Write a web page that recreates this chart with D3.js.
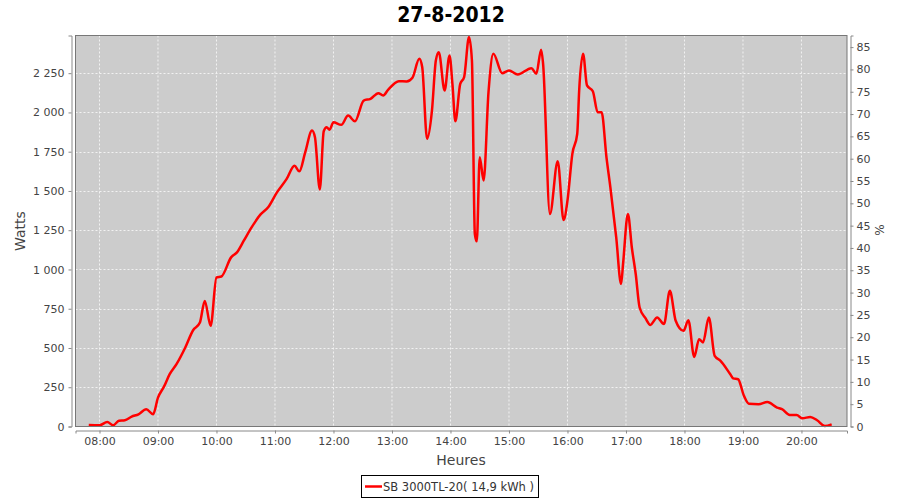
<!DOCTYPE html>
<html><head><meta charset="utf-8">
<script src="https://cdn.jsdelivr.net/npm/d3@7"></script>
<style>
body{margin:0;background:#fff;}
text{font-family:"DejaVu Sans",sans-serif;}
</style></head>
<body><svg id="c" width="900" height="500"></svg>
<script>
const title = "27-8-2012";
const seriesName = "SB 3000TL-20( 14,9 kWh )";
const xTickLabels = ["08:00","09:00","10:00","11:00","12:00","13:00","14:00","15:00","16:00","17:00","18:00","19:00","20:00"];
const wattTicks = [0,250,500,750,1000,1250,1500,1750,2000,2250];
const pctTicks = [0,5,10,15,20,25,30,35,40,45,50,55,60,65,70,75,80,85];
const times = ["07:49","08:00","08:08","08:14","08:20","08:26","08:33","08:40","08:48","08:55",
"09:00","09:06","09:12","09:19","09:28","09:36","09:43","09:48","09:54",
"10:00","10:05","10:15","10:21","10:28","10:36","10:45","10:53",
"11:02","11:12","11:20","11:25","11:31","11:38","11:41","11:46","11:50","11:53","11:56",
"12:00","12:08","12:15","12:22","12:31","12:38","12:46","12:51","12:56",
"13:07","13:15","13:21","13:28","13:31","13:36","13:41","13:45","13:48","13:54","13:59",
"14:02","14:05","14:10","14:14","14:19","14:22","14:25","14:27","14:30","14:34","14:39","14:44","14:53",
"15:00","15:09","15:23","15:28","15:33","15:35","15:42","15:50","15:56",
"16:00","16:05","16:10","16:12","16:16","16:20","16:26","16:31","16:35","16:40","16:44","16:50","16:55","16:57",
"17:02","17:06","17:10","17:14","17:20","17:25","17:32","17:39","17:45","17:51","17:59",
"18:04","18:10","18:15","18:19","18:25","18:31","18:37","18:47","18:50","18:55",
"19:01","19:06","19:16","19:25","19:35","19:40","19:48","19:55",
"20:01","20:09","20:16","20:24","20:31"];
const watts = [10,8,29,8,37,40,63,78,110,78,
184,252,333,397,503,613,662,800,641,
949,955,1077,1109,1183,1268,1349,1396,
1491,1577,1661,1625,1746,1885,1842,1510,1880,1906,1890,
1938,1921,1980,1944,2076,2087,2123,2108,2144,
2199,2197,2221,2342,2289,1832,2012,2331,2384,2140,2363,
2182,1944,2182,2225,2480,2331,1226,1179,1714,1566,2129,2374,2250,
2267,2242,2282,2246,2400,2310,1353,1689,1315,
1438,1736,1864,2140,2374,2172,2135,2001,2001,1714,1523,1204,907,1034,
1353,1140,971,758,690,647,694,652,864,673,609,
677,443,556,535,694,450,418,333,307,301,
195,145,142,156,120,110,73,73,
52,61,40,3,14];

const toMin = s => { const [h,m] = s.split(":").map(Number); return h*60+m; };
const data = times.map((t,i)=>({t:toMin(t), v:watts[i]}));

const svg = d3.select("#c");
const L = 75.5, R = 847, T = 35.5, B = 426.5;
const x = d3.scaleLinear().domain([455.4, 1246.7]).range([L, R]);
const y = d3.scaleLinear().domain([0, 2490]).range([B, T]);
const y2 = d3.scaleLinear().domain([0, 87.6]).range([B, T]);
const loc = d3.formatLocale({decimal:",", thousands:" ", grouping:[3], currency:["","€"]});
const fmt = loc.format(",");

// title
svg.append("text").attr("x",451).attr("y",22).attr("text-anchor","middle")
  .style("font-family","'DejaVu Sans Condensed','DejaVu Sans',sans-serif").style("font-stretch","condensed")
  .style("font-weight","bold").style("font-size","21px")
  .attr("fill","#000").text(title);

// plot background
svg.append("rect").attr("x",L).attr("y",T).attr("width",R-L).attr("height",B-T).attr("fill","#cccccc");

// grid
const g = svg.append("g");
g.selectAll("line.v").data(xTickLabels).enter().append("line")
  .attr("x1",d=>x(toMin(d))).attr("x2",d=>x(toMin(d))).attr("y1",T).attr("y2",B)
  .attr("stroke","#f2f2f2").attr("stroke-width",1).attr("stroke-dasharray","2,2");
g.selectAll("line.h").data(wattTicks.filter(d=>d>0)).enter().append("line")
  .attr("x1",L).attr("x2",R).attr("y1",d=>Math.round(y(d))+0.5).attr("y2",d=>Math.round(y(d))+0.5)
  .attr("stroke","#f2f2f2").attr("stroke-width",1).attr("stroke-dasharray","2,2");

// series line
svg.append("path").datum(data)
  .attr("d", d3.line().x(d=>x(d.t)).y(d=>y(d.v)).curve(d3.curveMonotoneX))
  .attr("fill","none").attr("stroke","#ff0000").attr("stroke-width",2.5).attr("stroke-linejoin","round");

// plot outline
svg.append("rect").attr("x",L).attr("y",T).attr("width",R-L).attr("height",B-T)
  .attr("fill","none").attr("stroke","#777").attr("stroke-width",1);

// axes
const tickColor = "#444";
const styleAxis = sel => {
  sel.select(".domain").attr("stroke","#888");
  sel.selectAll(".tick line").attr("stroke","#888");
  sel.selectAll(".tick text").attr("fill",tickColor).style("font-family","'DejaVu Sans',sans-serif").style("font-size","11px");
};
const xAxis = svg.append("g").attr("transform","translate(0,430.5)")
  .call(d3.axisBottom(x).tickValues(xTickLabels.map(toMin)).tickFormat((d,i)=>xTickLabels[i]).tickSizeOuter(0).tickSize(3).tickPadding(4));
styleAxis(xAxis);
const yAxis = svg.append("g").attr("transform","translate(71.5,0)")
  .call(d3.axisLeft(y).tickValues(wattTicks).tickFormat(fmt).tickSizeOuter(0).tickSize(3).tickPadding(4));
styleAxis(yAxis);
const yAxis2 = svg.append("g").attr("transform","translate(850.5,0)")
  .call(d3.axisRight(y2).tickValues(pctTicks).tickSizeOuter(0).tickSize(3).tickPadding(3));
styleAxis(yAxis2);

// axis labels
svg.append("text").attr("x",461).attr("y",465).attr("text-anchor","middle")
  .attr("fill","#444").style("font-size","14px").text("Heures");
svg.append("text").attr("transform","translate(25,231) rotate(-90)").attr("text-anchor","middle")
  .attr("fill","#444").style("font-size","14px").text("Watts");
svg.append("text").attr("transform","translate(884,230) rotate(-90)").attr("text-anchor","middle")
  .attr("fill","#444").style("font-size","12px").text("%");

// legend
const lg = svg.append("g");
lg.append("rect").attr("x",361.5).attr("y",475.5).attr("width",177).attr("height",22)
  .attr("fill","#fff").attr("stroke","#000").attr("stroke-width",1);
lg.append("line").attr("x1",365).attr("x2",382).attr("y1",486.5).attr("y2",486.5)
  .attr("stroke","#ff0000").attr("stroke-width",2.5);
lg.append("text").attr("x",383).attr("y",491).attr("fill","#333")
  .style("font-size","11.5px").text(seriesName);
</script></body></html>
